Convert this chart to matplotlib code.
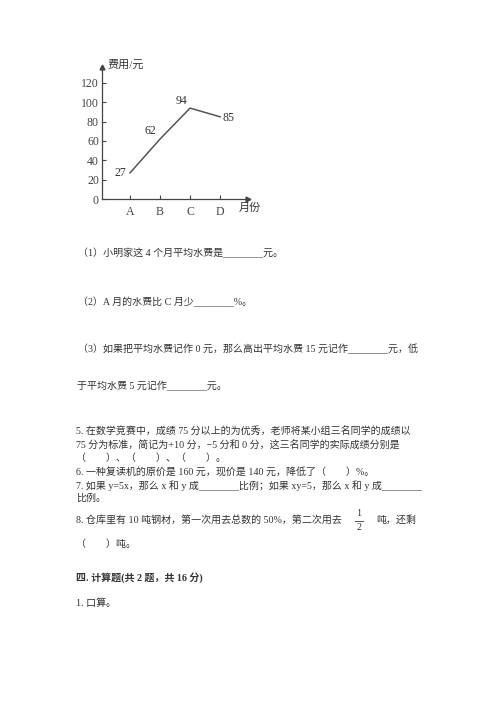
import matplotlib
matplotlib.use('Agg')
import matplotlib.pyplot as plt

plt.rcParams['font.family'] = ['Liberation Serif', 'Noto Sans CJK SC']

months = ['A', 'B', 'C', 'D']
cost = [27, 62, 94, 85]
yticks = [0, 20, 40, 60, 80, 100, 120]

W, H = 500, 707
fig = plt.figure(figsize=(5, 7.07), dpi=100)

def px(x0, y0, x1, y1):
    return [x0 / W, 1 - y1 / H, (x1 - x0) / W, (y1 - y0) / H]

ax = fig.add_axes(px(101.7, 67, 248, 199))
xs = list(range(len(months)))
ax.plot(xs, cost, color='#555555', lw=1.1)
ax.set_xlim(-0.943, 3.93)
ax.set_ylim(0, 136.5)
ax.set_xticks(xs)
ax.set_xticklabels(months)
ax.set_yticks(yticks)
ax.tick_params(direction='in', length=3, width=0.8, colors='#444444',
               labelsize=8.5, pad=2)
ax.tick_params(axis='x', pad=5)
for s in ['top', 'right']:
    ax.spines[s].set_visible(False)
for s in ['left', 'bottom']:
    ax.spines[s].set_color('#444444')
    ax.spines[s].set_linewidth(0.9)
ax.plot(0, 1, marker='^', color='#444444', ms=3.5, transform=ax.transAxes, clip_on=False)
ax.plot(1, 0, marker='>', color='#444444', ms=3.5, transform=ax.transAxes, clip_on=False)

offsets = [(-7, 0), (-7, 6), (-6, 5), (6, -1)]
for x, y, (dx, dy) in zip(xs, cost, offsets):
    ax.annotate(str(y), (x, y), xytext=(dx, dy), textcoords='offset points',
                ha='center', va='center', fontsize=8.5, color='#333333')

ax.text(0.04, 1.02, '费用/元', transform=ax.transAxes, fontsize=8,
        color='#333333', va='center', ha='left')
ax.text(1.01, -0.07, '月份', transform=ax.transAxes, fontsize=8,
        color='#333333', va='center', ha='center')

lines = [
    (78, 253, '（1）小明家这 4 个月平均水费是________元。', False),
    (78, 302, '（2）A 月的水费比 C 月少________%。', False),
    (78, 349, '（3）如果把平均水费记作 0 元，那么高出平均水费 15 元记作________元，低', False),
    (77, 386, '于平均水费 5 元记作________元。', False),
    (76, 431, '5. 在数学竞赛中，成绩 75 分以上的为优秀，老师将某小组三名同学的成绩以', False),
    (76, 446, '75 分为标准，简记为+10 分，−5 分和 0 分，这三名同学的实际成绩分别是', False),
    (76, 458, '（　　）、（　　）、（　　）。', False),
    (76, 472, '6. 一种复读机的原价是 160 元，现价是 140 元，降低了（　　）%。', False),
    (76, 486, '7. 如果 y=5x，那么 x 和 y 成________比例；如果 xy=5，那么 x 和 y 成________', False),
    (76, 498, '比例。', False),
    (76, 520, '8. 仓库里有 10 吨钢材，第一次用去总数的 50%，第二次用去', False),
    (376, 520, '吨，还剩', False),
    (76, 544, '（　　）吨。', False),
    (76, 578, '四. 计算题(共 2 题，共 16 分)', True),
    (76, 603, '1. 口算。', False),
]
for x, y, t, bold in lines:
    fig.text(x / W, 1 - y / H, t, fontsize=7.2, color='#333333', va='center',
             ha='left', fontweight='bold' if bold else 'normal')

fig.text(359 / W, 1 - 513 / H, '1', fontsize=7.2, color='#333333', ha='center', va='center')
fig.text(359 / W, 1 - 528 / H, '2', fontsize=7.2, color='#333333', ha='center', va='center')
fig.add_artist(plt.Line2D([355 / W, 363 / W], [1 - 520.5 / H] * 2, color='#333333', lw=0.6))

fig.savefig('out.png', dpi=100)
